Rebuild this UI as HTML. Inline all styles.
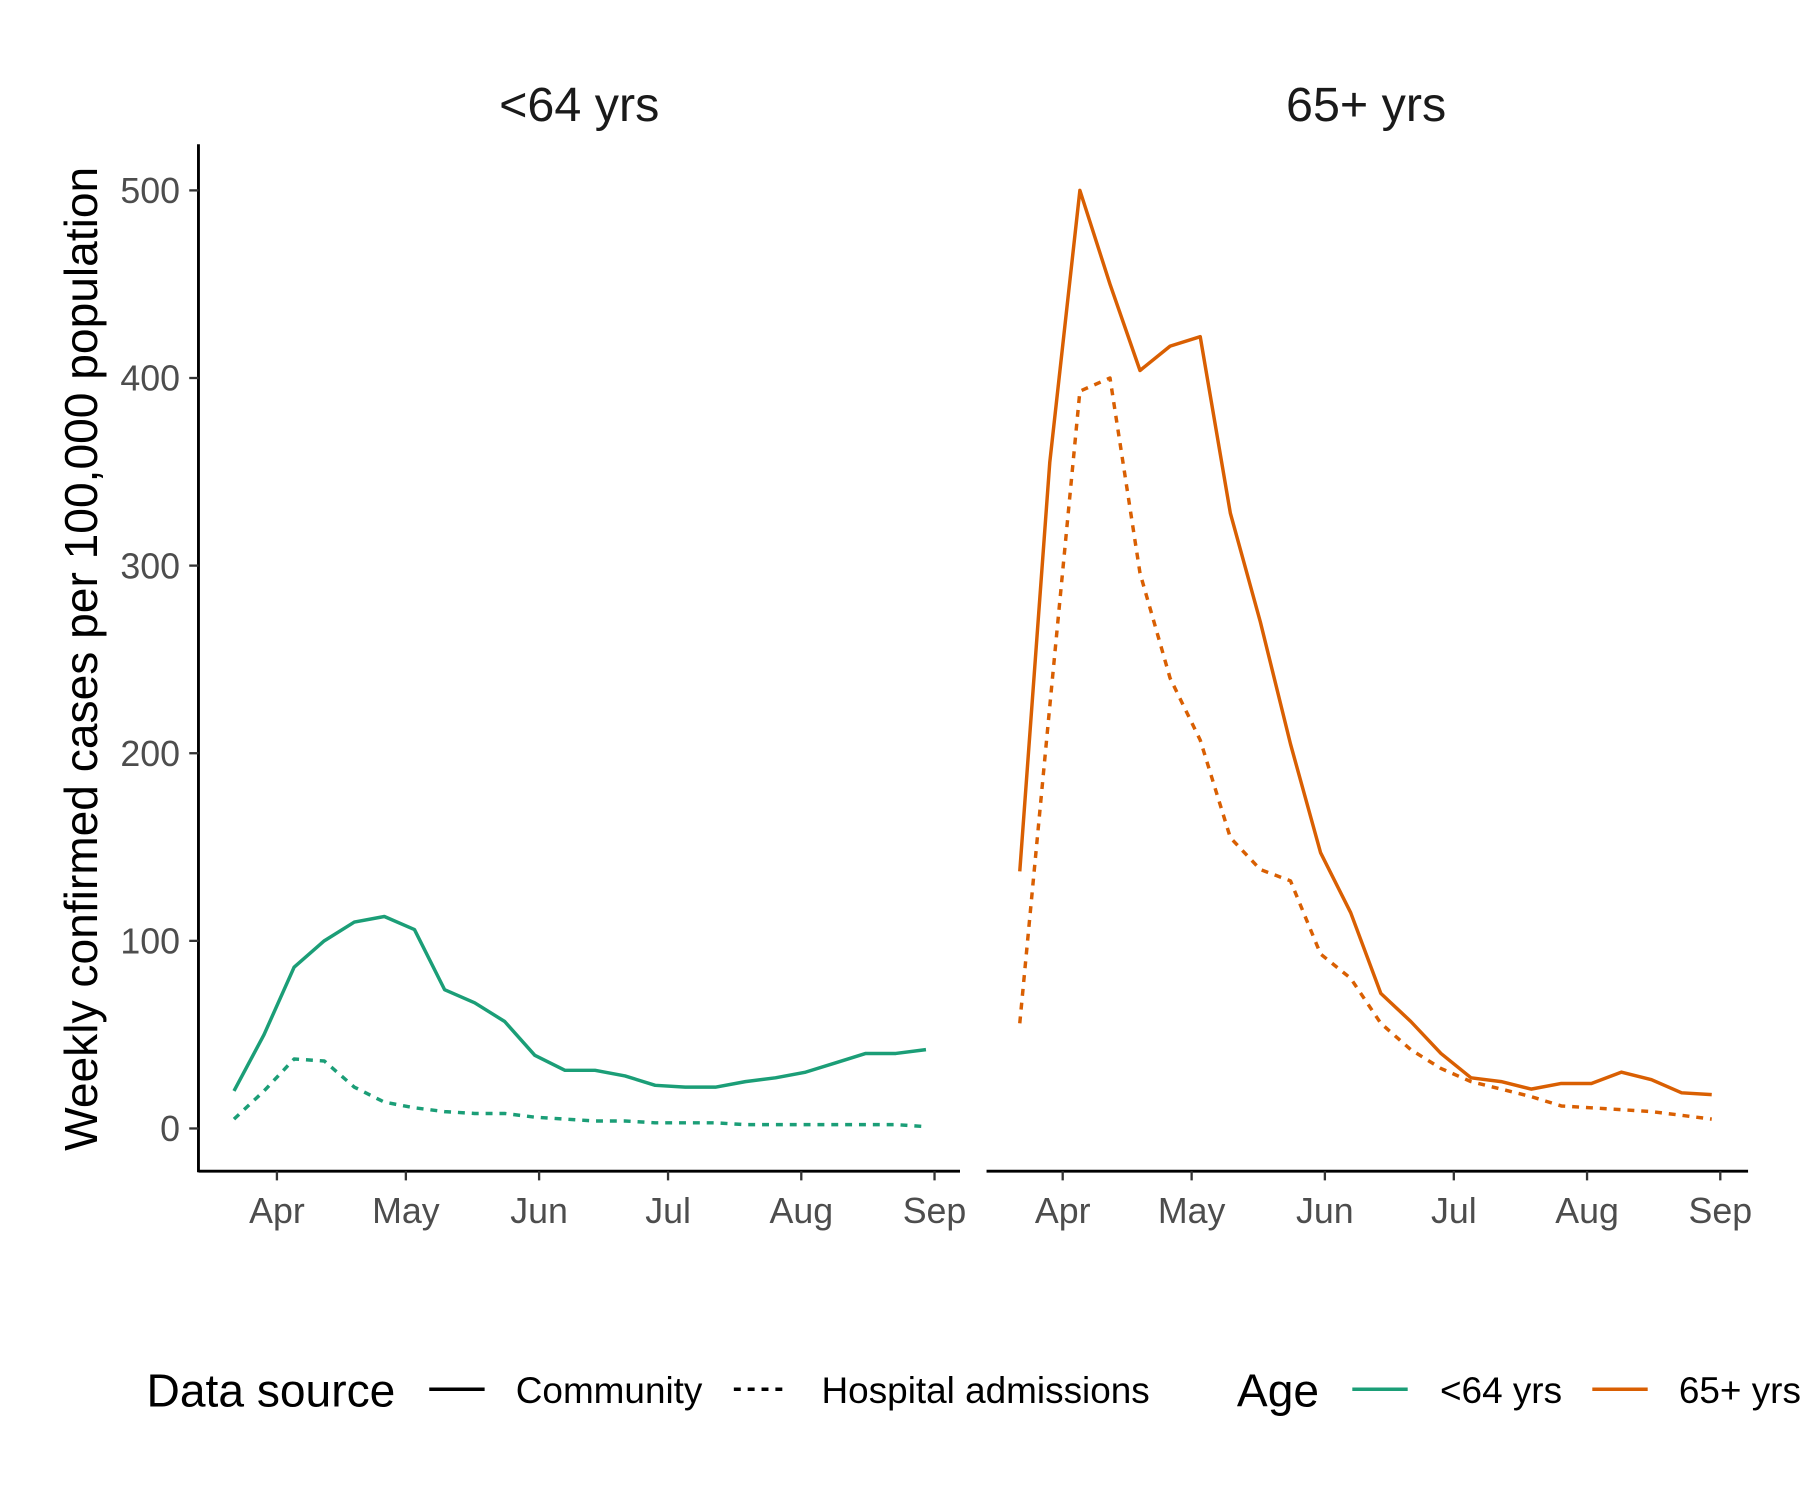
<!DOCTYPE html>
<html><head><meta charset="utf-8"><style>
html,body{margin:0;padding:0;background:#fff}
svg{display:block;font-family:"Liberation Sans",Arial,sans-serif}
</style></head><body>
<svg id="chart" width="1800" height="1500" viewBox="0 0 1560 1300" xmlns="http://www.w3.org/2000/svg">
<g id="root"></g>
</svg>
<script>
const dates = ["2020-03-22","2020-03-29","2020-04-05","2020-04-12","2020-04-19","2020-04-26","2020-05-03","2020-05-10","2020-05-17","2020-05-24","2020-05-31","2020-06-07","2020-06-14","2020-06-21","2020-06-28","2020-07-05","2020-07-12","2020-07-19","2020-07-26","2020-08-02","2020-08-09","2020-08-16","2020-08-23","2020-08-30"];
const youngCommunity = [20,50,86,100,110,113,106,74,67,57,39,31,31,28,23,22,22,25,27,30,35,40,40,42];
const youngHospital = [5,20,37,36,22,14,11,9,8,8,6,5,4,4,3,3,3,2,2,2,2,2,2,1];
const oldCommunity = [137,355,500,450,404,417,422,328,270,205,147,115,72,57,40,27,25,21,24,24,30,26,19,18];
const oldHospital = [56,225,393,400,296,240,207,155,138,132,93,80,56,42,32,25,21,17,12,11,10,9,7,5];
const yTicks = [0,100,200,300,400,500];
const monthLabels = ["Apr","May","Jun","Jul","Aug","Sep"];
const monthDates = ["2020-04-01","2020-05-01","2020-06-01","2020-07-01","2020-08-01","2020-09-01"];

const NS="http://www.w3.org/2000/svg";
const root=document.getElementById('root');
function mk(tag,attrs,parent,text){const e=document.createElementNS(NS,tag);for(const k in attrs)e.setAttribute(k,attrs[k]);if(text!==undefined)e.textContent=text;(parent||root).appendChild(e);return e;}
const DAY=86400000, base=Date.UTC(2020,3,1);
function days(s){const p=s.split('-');return (Date.UTC(+p[0],+p[1]-1,+p[2])-base)/DAY;}
function yScale(v){return 978-v*1.626;}
const panels=[{x0:172,x1:832,apr:240,title:"<64 yrs",tx:502,comm:youngCommunity,hosp:youngHospital,col:"#1B9E77",name:"young"},
{x0:855,x1:1515,apr:921,title:"65+ yrs",tx:1184,comm:oldCommunity,hosp:oldHospital,col:"#D95F02",name:"old"}];
panels.forEach((p,pi)=>{
  const xs=d=>p.apr+days(d)*3.725;
  let t=mk('text',{x:p.tx,y:105,'font-size':42,'text-anchor':'middle',fill:'#1a1a1a'},root,p.title);
  
  
  let ax=mk('line',{x1:p.x0,x2:p.x1,y1:1015,y2:1015,stroke:'#000','stroke-width':2.5});
  
  
  monthDates.forEach((m,i)=>{
    const x=xs(m);
    mk('line',{x1:x,x2:x,y1:1015,y2:1023,stroke:'#333','stroke-width':2});
    let l=mk('text',{x:x,y:1060,'font-size':31,'text-anchor':'middle',fill:'#4D4D4D'},root,monthLabels[i]);
    
    
  });
  if(pi===0){
    let ya=mk('line',{x1:172,x2:172,y1:125,y2:1016,stroke:'#000','stroke-width':2.5});
    
    
    yTicks.forEach(v=>{
      const y=yScale(v);
      mk('line',{x1:164,x2:172,y1:y,y2:y,stroke:'#333','stroke-width':2});
      let l=mk('text',{x:156,y:y+11,'font-size':31,'text-anchor':'end',fill:'#4D4D4D'},root,String(v));
      
      
    });
  }
  [[p.comm,null,'community'],[p.hosp,'6 6','hospital']].forEach(([vals,dash,nm])=>{
    const pts=vals.map((v,i)=>xs(dates[i]).toFixed(1)+','+yScale(v).toFixed(1)).join(' ');
    const a={points:pts,fill:'none',stroke:p.col,'stroke-width':3,'stroke-linejoin':'round'};
    if(dash)a['stroke-dasharray']=dash;
    let l=mk('polyline',a);
    
    
  });
});
let yt=mk('text',{x:0,y:0,'font-size':40,'text-anchor':'middle',fill:'#000',transform:'translate(84,571) rotate(-90)'},root,'Weekly confirmed cases per 100,000 population');


// legend
let lg=mk('g',{});


let t1=mk('text',{x:127,y:1219,'font-size':40,fill:'#000'},lg,'Data source');


mk('line',{x1:372,x2:420,y1:1204,y2:1204,stroke:'#000','stroke-width':3},lg);
let t2=mk('text',{x:447,y:1216,'font-size':32,fill:'#000'},lg,'Community');


mk('line',{x1:636,x2:684,y1:1204,y2:1204,stroke:'#000','stroke-width':3,'stroke-dasharray':'6 6'},lg);
let t3=mk('text',{x:712,y:1216,'font-size':32,fill:'#000'},lg,'Hospital admissions');


let t4=mk('text',{x:1072,y:1219,'font-size':40,fill:'#000'},lg,'Age');


mk('line',{x1:1172,x2:1220,y1:1204,y2:1204,stroke:'#1B9E77','stroke-width':3},lg);
let t5=mk('text',{x:1248,y:1216,'font-size':32,fill:'#000'},lg,'<64 yrs');


mk('line',{x1:1380,x2:1428,y1:1204,y2:1204,stroke:'#D95F02','stroke-width':3},lg);
let t6=mk('text',{x:1455,y:1216,'font-size':32,fill:'#000'},lg,'65+ yrs');


</script>
</body></html>
